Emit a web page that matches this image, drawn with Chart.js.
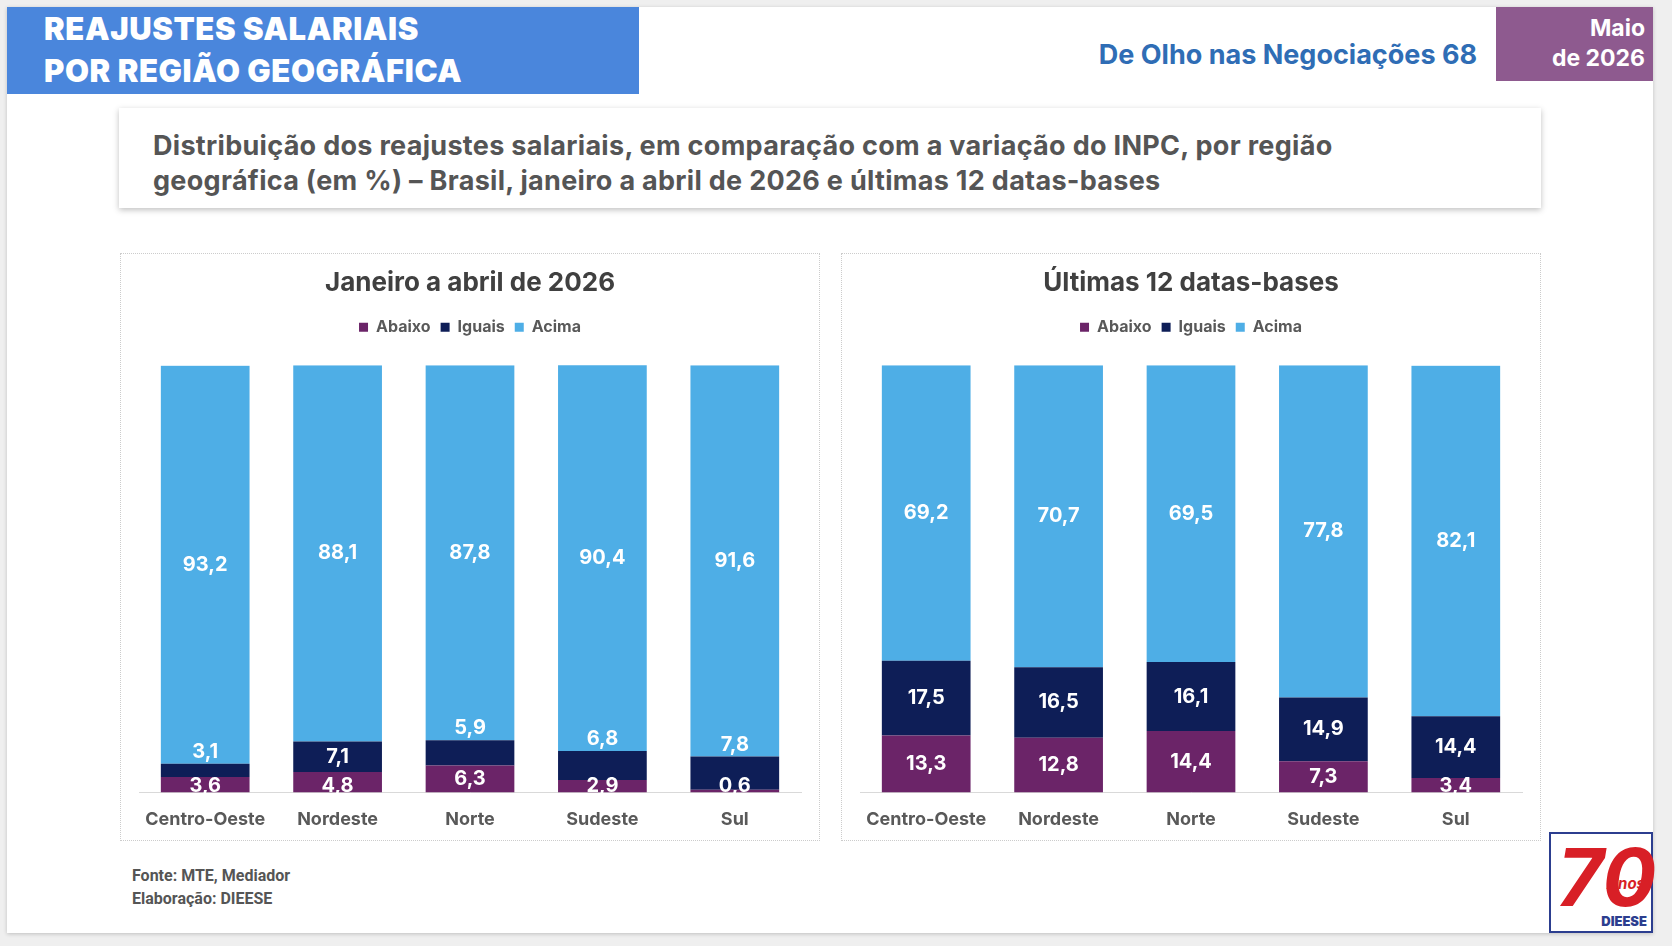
<!DOCTYPE html>
<html><head><meta charset="utf-8">
<script src="https://cdn.jsdelivr.net/npm/chart.js@4"></script>
<style>
body{margin:0;width:1672px;height:946px;background:#efefef;font-family:Inter,Roboto,sans-serif;position:relative;overflow:hidden}
.card{position:absolute;left:7px;top:7px;width:1646px;height:926px;background:#fff;box-shadow:0 1px 4px rgba(0,0,0,.2)}
.hd{position:absolute;left:7px;top:7px;width:632px;height:87px;background:#4a86dc;color:#fff;font-weight:900;font-size:31px;line-height:42px;padding:1px 0 0 37px;box-sizing:border-box;letter-spacing:.6px}
.mes{position:absolute;left:1496px;top:7px;width:157px;height:74px;background:#8e5a8f;color:#fff;font-weight:700;font-size:23px;line-height:30px;text-align:right;padding:6px 8px 0 0;box-sizing:border-box}
.pub{position:absolute;right:195px;top:38px;color:#2f6db5;font-weight:700;font-size:27px}
.sub{position:absolute;left:119px;top:108px;width:1422px;height:100px;background:#fff;box-shadow:0 2px 6px rgba(0,0,0,.25);color:#555;font-weight:700;font-size:27px;line-height:35px;padding:20px 0 0 34px;box-sizing:border-box;letter-spacing:.3px}
.panel{position:absolute;top:253px;width:700px;height:588px;border:1px dotted #ccc;box-sizing:border-box}
.foot{position:absolute;left:132px;top:864px;color:#555;font-weight:700;font-size:16px;line-height:23px;font-family:"Liberation Sans Narrow",Roboto,sans-serif}
.logo{position:absolute;left:1549px;top:832px;width:104px;height:101px;border:2px solid #2c3e8f;box-sizing:border-box;background:#fff}
.logo b{position:absolute;left:6px;top:-6px;font-size:80px;color:#d81f26;font-style:italic}
.logo i{position:absolute;right:6px;top:40px;font-size:15px;color:#d81f26;font-weight:700}
.logo span{position:absolute;right:4px;bottom:2px;font-size:13px;color:#2c3e8f;font-weight:900}
</style></head><body>
<div class="card"></div>
<div class="hd">REAJUSTES SALARIAIS<br>POR REGIÃO GEOGRÁFICA</div>
<div class="pub">De Olho nas Negociações 68</div>
<div class="mes">Maio<br>de 2026</div>
<div class="sub">Distribuição dos reajustes salariais, em comparação com a variação do INPC, por região<br>geográfica (em %) – Brasil, janeiro a abril de 2026 e últimas 12 datas-bases</div>
<div class="panel" style="left:120px"><canvas id="c1"></canvas></div>
<div class="panel" style="left:841px"><canvas id="c2"></canvas></div>
<div class="foot">Fonte: MTE, Mediador<br>Elaboração: DIEESE</div>
<div class="logo"><b>70</b><i>Anos</i><span>DIEESE</span></div>
<script>
const regioes = ["Centro-Oeste", "Nordeste", "Norte", "Sudeste", "Sul"];
const series = ["Abaixo", "Iguais", "Acima"];
const cores = ["#6b2468", "#0e1e57", "#4eaee6"];

const abaixoAno = [3.6, 4.8, 6.3, 2.9, 0.6];
const iguaisAno = [3.1, 7.1, 5.9, 6.8, 7.8];
const acimaAno = [93.2, 88.1, 87.8, 90.4, 91.6];

const abaixo12 = [13.3, 12.8, 14.4, 7.3, 3.4];
const iguais12 = [17.5, 16.5, 16.1, 14.9, 14.4];
const acima12 = [69.2, 70.7, 69.5, 77.8, 82.1];

// rótulos brancos no centro de cada segmento
const rotulos = {
    id: "rotulos",
    afterDatasetsDraw(chart) {
        const ctx = chart.ctx;
        ctx.save();
        ctx.fillStyle = "#fff";
        ctx.font = "bold 20px Inter, sans-serif";
        ctx.textAlign = "center";
        ctx.textBaseline = "middle";
        chart.data.datasets.forEach((ds, i) => {
            chart.getDatasetMeta(i).data.forEach((bar, j) => {
                const h = Math.abs(bar.base - bar.y);
                let y = (bar.y + bar.base) / 2;
                if (i === 1 && h < 36 && ds.data[j] !== 7.1) y = bar.y - 12;
                if (i === 0 && h < 22) y = bar.base - 6;
                ctx.fillText(ds.data[j].toFixed(1).replace(".", ","), bar.x, y);
            });
        });
        ctx.restore();
    },
};

// espaço extra abaixo da legenda
const folgaLegenda = {
    id: "folgaLegenda",
    beforeLayout(chart) {
        const lg = chart.legend;
        if (lg && !lg._folga) {
            const fit = lg.fit;
            lg.fit = function () { fit.call(this); this.height += 20; };
            lg._folga = true;
        }
    },
};

function grafico(id, titulo, valores) {
    new Chart(document.getElementById(id), {
        type: "bar",
        data: {
            labels: regioes,
            datasets: series.map((s, i) => ({
                label: s,
                data: valores[i],
                backgroundColor: cores[i],
                categoryPercentage: 0.67,
                barPercentage: 1,
            })),
        },
        options: {
            responsive: true,
            maintainAspectRatio: false,
            animation: false,
            layout: { padding: { top: 14, left: 18, right: 18, bottom: 2 } },
            plugins: {
                title: {
                    display: true, text: titulo, color: "#404040",
                    font: { size: 26, weight: "bold", family: "Inter" },
                    padding: { top: 0, bottom: 10 },
                },
                legend: {
                    labels: {
                        boxWidth: 9, boxHeight: 9, padding: 10, color: "#595959",
                        font: { size: 16, weight: "bold", family: "Inter" },
                    },
                },
                tooltip: { enabled: false },
            },
            scales: {
                x: {
                    stacked: true,
                    grid: { display: false },
                    border: { color: "#d9d9d9" },
                    ticks: { color: "#595959", font: { size: 18, weight: "bold", family: "Inter" }, padding: 8 },
                },
                y: { stacked: true, display: false, min: 0, max: 100 },
            },
        },
        plugins: [rotulos, folgaLegenda],
    });
}

grafico("c1", "Janeiro a abril de 2026", [abaixoAno, iguaisAno, acimaAno]);
grafico("c2", "Últimas 12 datas-bases", [abaixo12, iguais12, acima12]);
</script>
</body></html>
